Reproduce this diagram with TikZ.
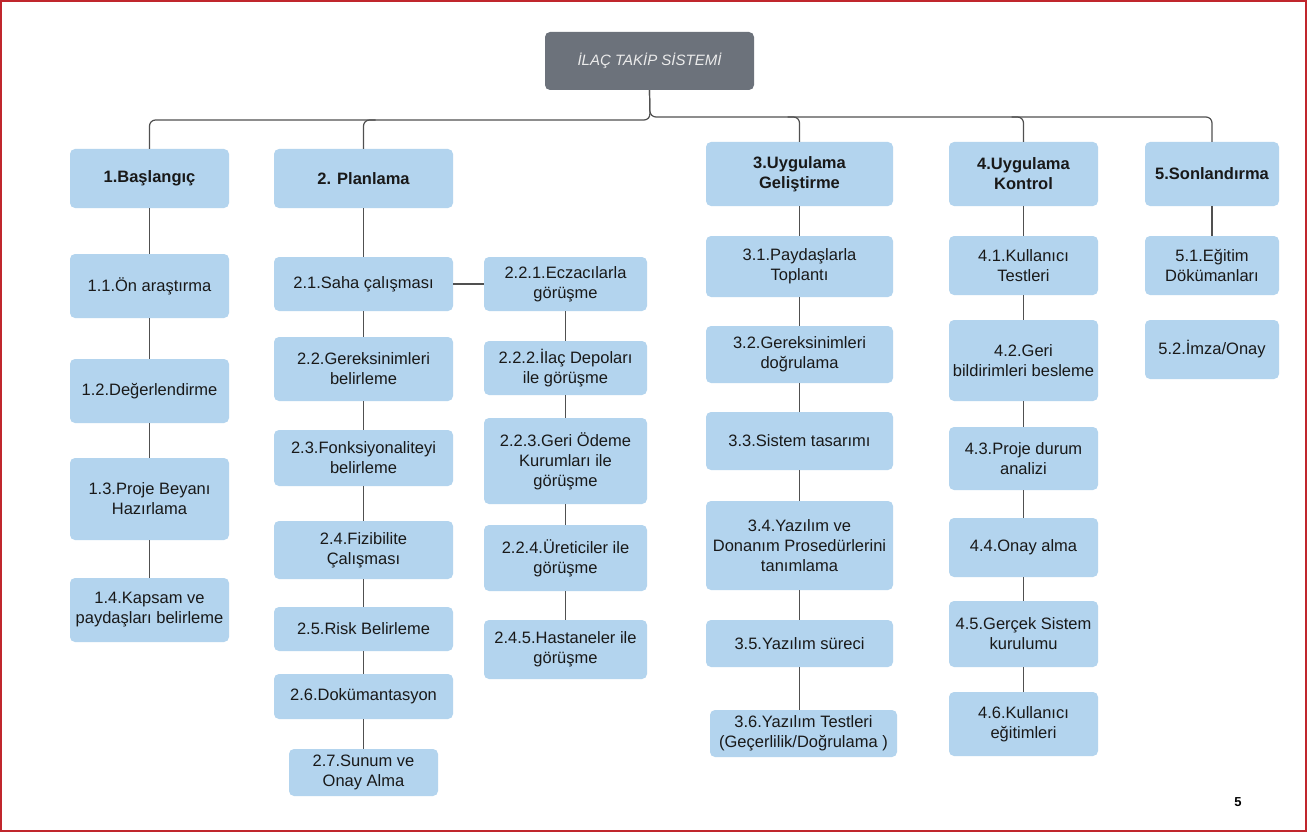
\documentclass[tikz,border=0pt]{standalone}
\usepackage{fontspec}
\setmainfont{Liberation Sans}
\usetikzlibrary{calc}
\definecolor{boxblue}{HTML}{B3D4EE}
\definecolor{rootgray}{HTML}{6C727B}
\definecolor{linegray}{HTML}{505050}
\definecolor{framered}{HTML}{C0262D}
\tikzset{
  box/.style={fill=boxblue, rounded corners=5pt, align=center, inner sep=2pt,
    font=\fontsize{16.5}{20}\selectfont, text=black!90},
  headbox/.style={box, font=\bfseries\fontsize{16.5}{20}\selectfont},
  rootbox/.style={fill=rootgray, rounded corners=5pt, align=center,
    font=\itshape\fontsize{15}{18}\selectfont, text=white!92!black},
  conn/.style={draw=linegray, line width=1.2pt}
}
% \wbs{name}{style}{x1}{y1}{x2}{y2}{text}
\newcommand\wbs[7]{%
  \node[#2, minimum width={(#5-#3)*1pt}, minimum height={(#6-#4)*1pt}]
    (#1) at ({(#3+#5)/2},{(#4+#6)/2}) {#7};}
\begin{document}
\begin{tikzpicture}[x=1pt,y=-1pt]
\useasboundingbox (0,0) rectangle (1307,832);
\fill[white] (0,0) rectangle (1307,832);
\draw[framered, line width=2pt] (1,1) rectangle (1306,831);

\wbs{root}{rootbox}{545}{32}{754}{90}{İLAÇ TAKİP SİSTEMİ}

\wbs{b1}{headbox}{70}{149}{229}{208}{1.Başlangıç}
\wbs{b2}{headbox}{274}{149}{453}{208}{2. Planlama}
\wbs{b3}{headbox}{706}{142}{893}{206}{3.Uygulama\\Geliştirme}
\wbs{b4}{headbox}{949}{142}{1098}{206}{4.Uygulama\\Kontrol}
\wbs{b5}{headbox}{1145}{142}{1279}{206}{5.Sonlandırma}

\wbs{b11}{box}{70}{254}{229}{318}{1.1.Ön araştırma}
\wbs{b12}{box}{70}{359}{229}{423}{1.2.Değerlendirme}
\wbs{b13}{box}{70}{458}{229}{540}{1.3.Proje Beyanı\\Hazırlama}
\wbs{b14}{box}{70}{578}{229}{642}{1.4.Kapsam ve\\paydaşları belirleme}

\wbs{b21}{box}{274}{257}{453}{311}{2.1.Saha çalışması}
\wbs{b22}{box}{274}{337}{453}{401}{2.2.Gereksinimleri\\belirleme}
\wbs{b23}{box}{274}{430}{453}{486}{2.3.Fonksiyonaliteyi\\belirleme}
\wbs{b24}{box}{274}{521}{453}{579}{2.4.Fizibilite\\Çalışması}
\wbs{b25}{box}{274}{607}{453}{651}{2.5.Risk Belirleme}
\wbs{b26}{box}{274}{674}{453}{719}{2.6.Dokümantasyon}
\wbs{b27}{box}{289}{749}{438}{796}{2.7.Sunum ve\\Onay Alma}

\wbs{b221}{box}{484}{257}{647}{311}{2.2.1.Eczacılarla\\görüşme}
\wbs{b222}{box}{484}{341}{647}{395}{2.2.2.İlaç Depoları\\ile görüşme}
\wbs{b223}{box}{484}{418}{647}{504}{2.2.3.Geri Ödeme\\Kurumları ile\\görüşme}
\wbs{b224}{box}{484}{525}{647}{591}{2.2.4.Üreticiler ile\\görüşme}
\wbs{b245}{box}{484}{620}{647}{679}{2.4.5.Hastaneler ile\\görüşme}

\wbs{b31}{box}{706}{236}{893}{297}{3.1.Paydaşlarla\\Toplantı}
\wbs{b32}{box}{706}{326}{893}{383}{3.2.Gereksinimleri\\doğrulama}
\wbs{b33}{box}{706}{412}{893}{470}{3.3.Sistem tasarımı}
\wbs{b34}{box}{706}{501}{893}{590}{3.4.Yazılım ve\\Donanım Prosedürlerini\\tanımlama}
\wbs{b35}{box}{706}{620}{893}{667}{3.5.Yazılım süreci}
\wbs{b36}{box}{710}{710}{897}{757}{3.6.Yazılım Testleri\\(Geçerlilik/Doğrulama )}

\wbs{b41}{box}{949}{236}{1098}{295}{4.1.Kullanıcı\\Testleri}
\wbs{b42}{box}{949}{320}{1098}{401}{4.2.Geri\\bildirimleri besleme}
\wbs{b43}{box}{949}{427}{1098}{490}{4.3.Proje durum\\analizi}
\wbs{b44}{box}{949}{518}{1098}{577}{4.4.Onay alma}
\wbs{b45}{box}{949}{601}{1098}{667}{4.5.Gerçek Sistem\\kurulumu}
\wbs{b46}{box}{949}{692}{1098}{756}{4.6.Kullanıcı\\eğitimleri}

\wbs{b51}{box}{1145}{236}{1279}{295}{5.1.Eğitim\\Dökümanları}
\wbs{b52}{box}{1145}{320}{1279}{379}{5.2.İmza/Onay}

\node[font=\bfseries\fontsize{13}{15}\selectfont] (pg) at (1238,802) {5};

% tree connectors
\coordinate (hl) at (650,120);
\coordinate (hr) at (650,117);
\draw[conn, rounded corners=6pt] (root.south) -- (hl) -- (b1.north |- hl) -- (b1.north);
\draw[conn, rounded corners=6pt] (root.south) -- (hr) -- (b5.north |- hr) -- (b5.north);
\draw[conn, rounded corners=6pt] ($(b2.north |- hl)+(12,0)$) -- (b2.north |- hl) -- (b2.north);
\draw[conn, rounded corners=6pt] ($(b3.north |- hr)+(-12,0)$) -- (b3.north |- hr) -- (b3.north);
\draw[conn, rounded corners=6pt] ($(b4.north |- hr)+(-12,0)$) -- (b4.north |- hr) -- (b4.north);

\draw[conn] (b1) -- (b11);
\draw[conn] (b11) -- (b12);
\draw[conn] (b12) -- (b13);
\draw[conn] (b13) -- (b14);

\draw[conn] (b2) -- (b21);
\draw[conn] (b21) -- (b22);
\draw[conn] (b22) -- (b23);
\draw[conn] (b23) -- (b24);
\draw[conn] (b24) -- (b25);
\draw[conn] (b25) -- (b26);
\draw[conn] (b26) -- (b27);

\draw[conn] (b21.east) -- (b221.west);
\draw[conn] (b221) -- (b222);
\draw[conn] (b222) -- (b223);
\draw[conn] (b223) -- (b224);
\draw[conn] (b224) -- (b245);

\draw[conn] (b3) -- (b31);
\draw[conn] (b31) -- (b32);
\draw[conn] (b32) -- (b33);
\draw[conn] (b33) -- (b34);
\draw[conn] (b34) -- (b35);
\draw[conn] (b35.south) -- (b35.south |- b36.north);

\draw[conn] (b4) -- (b41);
\draw[conn] (b41) -- (b42);
\draw[conn] (b42) -- (b43);
\draw[conn] (b43) -- (b44);
\draw[conn] (b44) -- (b45);
\draw[conn] (b45) -- (b46);

\draw[conn] (b5) -- (b51);
\end{tikzpicture}
\end{document}
